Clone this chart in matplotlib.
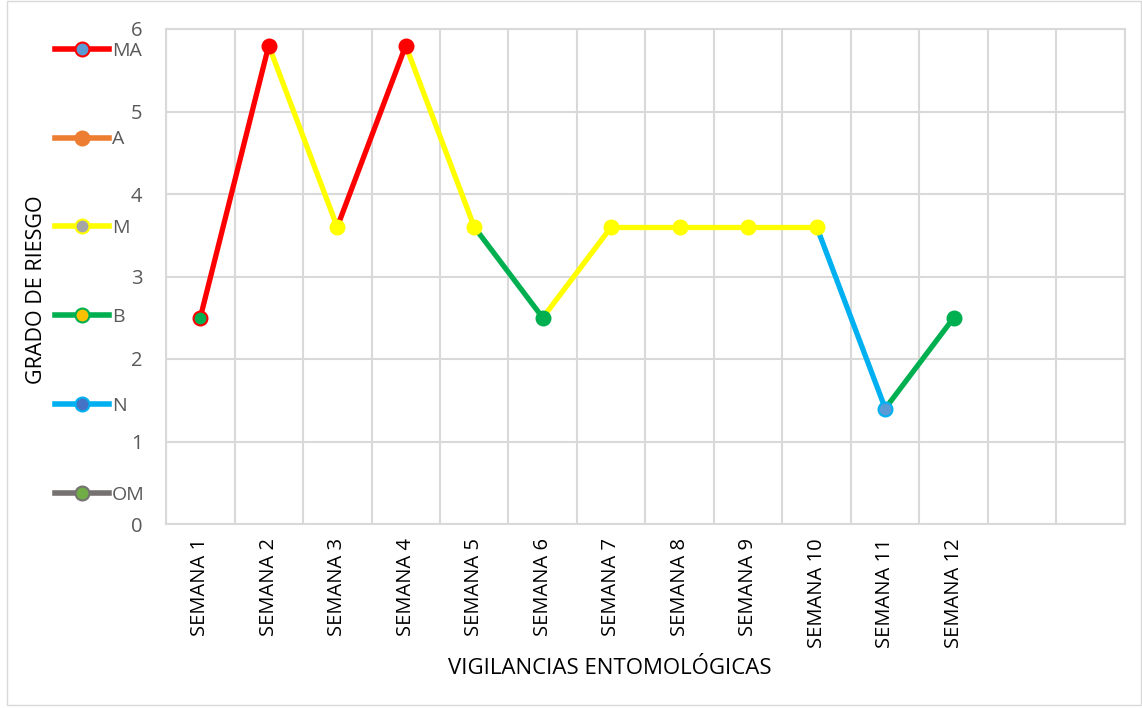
import numpy as np
import matplotlib
matplotlib.use('Agg')
import matplotlib.pyplot as plt
from matplotlib.lines import Line2D
from matplotlib.patches import Rectangle

plt.rcParams['font.family'] = ['Open Sans', 'DejaVu Sans']

# datos
semanas = ['SEMANA 1', 'SEMANA 2', 'SEMANA 3', 'SEMANA 4', 'SEMANA 5', 'SEMANA 6',
           'SEMANA 7', 'SEMANA 8', 'SEMANA 9', 'SEMANA 10', 'SEMANA 11', 'SEMANA 12', '', '']
grado = [2.5, 5.8, 3.6, 5.8, 3.6, 2.5, 3.6, 3.6, 3.6, 3.6, 1.4, 2.5]
# color del tramo que llega a cada punto
color_tramo = [None, '#FF0000', '#FFFF00', '#FF0000', '#FFFF00', '#00B050',
               '#FFFF00', '#FFFF00', '#FFFF00', '#FFFF00', '#00B0F0', '#00B050']
color_marca = ['#00B050', '#FF0000', '#FFFF00', '#FF0000', '#FFFF00', '#00B050',
               '#FFFF00', '#FFFF00', '#FFFF00', '#FFFF00', '#5B9BD5', '#00B050']
borde_marca = ['#FF0000', '#FF0000', '#FFFF00', '#FF0000', '#FFFF00', '#00B050',
               '#FFFF00', '#FFFF00', '#FFFF00', '#FFFF00', '#00B0F0', '#00B050']

# leyenda
niveles = ['MA', 'A', 'M', 'B', 'N', 'OM']
color_linea_ley = ['#FF0000', '#ED7D31', '#FFFF00', '#00B050', '#00B0F0', '#767171']
color_marca_ley = ['#5B9BD5', '#ED7D31', '#A5A5A5', '#FFC000', '#4472C4', '#70AD47']

fig = plt.figure(figsize=(11.42, 7.08), dpi=100)
ax = fig.add_axes([166 / 1142, 1 - 524 / 708, (1125 - 166) / 1142, (524 - 29) / 708])

x = np.arange(len(grado))
for i in range(1, len(grado)):
    ax.plot(x[i - 1:i + 1], grado[i - 1:i + 1], color=color_tramo[i], lw=3.8,
            solid_capstyle='round', zorder=3)
for i in range(len(grado)):
    ax.plot(x[i], grado[i], 'o', ms=10, mfc=color_marca[i], mec=borde_marca[i],
            mew=1.5, zorder=4)

ax.set_xlim(-0.5, len(semanas) - 0.5)
ax.set_ylim(0, 6)
ax.set_xticks(np.arange(len(semanas)))
ax.set_xticklabels(semanas, rotation=90, fontsize=14.5, color='black')
ax.set_xticks(np.arange(len(semanas) + 1) - 0.5, minor=True)
ax.set_yticks(np.arange(0, 7))
ax.tick_params(axis='x', which='both', length=0, pad=10)
ax.tick_params(axis='y', length=0, pad=17, labelsize=14.5, labelcolor='#595959')
ax.grid(True, which='minor', axis='x', color='#D9D9D9', lw=1.5)
ax.grid(True, which='major', axis='y', color='#D9D9D9', lw=1.5)
for s in ax.spines.values():
    s.set_color('#D9D9D9')
    s.set_linewidth(1.5)
ax.set_axisbelow(True)

fig.text(610 / 1142, 1 - 668 / 708, 'VIGILANCIAS ENTOMOLÓGICAS', fontsize=16,
         ha='center', va='center')
fig.text(37 / 1142, 1 - 290 / 708, 'GRADO DE RIESGO', rotation=90, fontsize=15.5,
         ha='center', va='center')

handles = [Line2D([], [], color=color_linea_ley[i], lw=4, marker='o', ms=10,
                  mfc=color_marca_ley[i],
                  mec=color_linea_ley[i] if i != 1 else color_marca_ley[i], mew=1.5)
           for i in range(len(niveles))]
leg = fig.legend(handles, niveles, loc='upper left', bbox_to_anchor=(45 / 1142, 1 - 32 / 708),
                 frameon=False, fontsize=14, labelspacing=3.64, handlelength=2.8,
                 handletextpad=0.15, borderpad=0)
for t in leg.get_texts():
    t.set_color('#595959')

fig.patches.append(Rectangle((7 / 1142, 3 / 708), 1 - 8 / 1142, 1 - 4 / 708,
                             transform=fig.transFigure, fill=False,
                             edgecolor='#D9D9D9', lw=1))

fig.savefig('out.png', dpi=100)
